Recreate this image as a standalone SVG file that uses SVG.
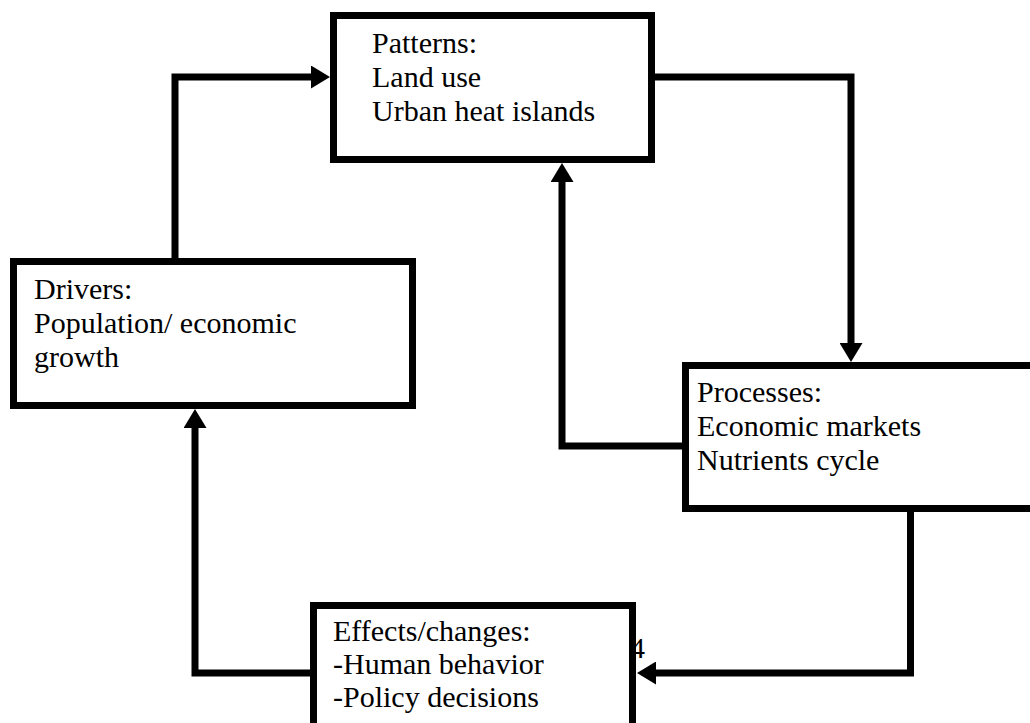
<svg xmlns="http://www.w3.org/2000/svg" width="1030" height="723" viewBox="0 0 1030 723">
<style>
.box{fill:#fff;stroke:#000;stroke-width:7}
.lbl{font-size:30px;fill:#000}
.con{fill:none;stroke:#000;stroke-width:7;stroke-linejoin:miter}
</style>
<defs>
<marker id="ah" markerUnits="userSpaceOnUse" viewBox="0 0 19 23" markerWidth="19" markerHeight="23" refX="0" refY="11.5" orient="auto">
<path d="M0,0 L19,11.5 L0,23 Z" fill="#000"/>
</marker>
</defs>
<rect width="1030" height="723" fill="#fff"/>
<g id="connectors">
<path class="con" d="M175,262 V77 H311" marker-end="url(#ah)"/>
<path class="con" d="M651,77 H851 V343" marker-end="url(#ah)"/>
<path class="con" d="M686,446 H562 V182" marker-end="url(#ah)"/>
<path class="con" d="M910.5,508 V673 H656" marker-end="url(#ah)"/>
<path class="con" d="M314,673 H195 V428" marker-end="url(#ah)"/>
</g>
<g font-family="Liberation Serif, Times New Roman, DejaVu Serif, serif">
<text class="lbl" x="630" y="658" font-size="24">4</text>
<g id="patterns">
<rect class="box" x="333.5" y="15.5" width="318" height="144"/>
<text class="lbl" x="372" y="53">Patterns:</text>
<text class="lbl" x="372" y="87">Land use</text>
<text class="lbl" x="372" y="121">Urban heat islands</text>
</g>
<g id="drivers">
<rect class="box" x="13.5" y="261.5" width="399" height="144"/>
<text class="lbl" x="34" y="299">Drivers:</text>
<text class="lbl" x="34" y="333">Population/ economic</text>
<text class="lbl" x="34" y="367">growth</text>
</g>
<g id="processes">
<rect class="box" x="685.5" y="365.5" width="360" height="143"/>
<text class="lbl" x="697" y="402">Processes:</text>
<text class="lbl" x="697" y="436">Economic markets</text>
<text class="lbl" x="697" y="470">Nutrients cycle</text>
</g>
<g id="effects">
<rect class="box" x="313.5" y="605.5" width="319" height="140"/>
<text class="lbl" x="333" y="641">Effects/changes:</text>
<text class="lbl" x="333" y="674">-Human behavior</text>
<text class="lbl" x="333" y="707">-Policy decisions</text>
</g>
</g>
</svg>
